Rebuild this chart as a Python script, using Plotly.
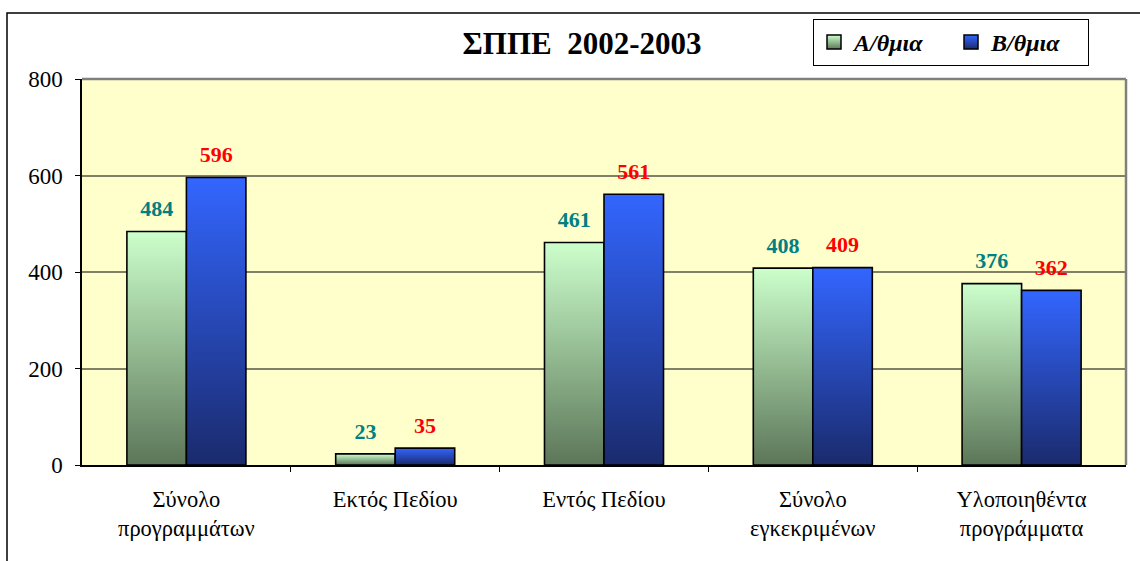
import plotly.graph_objects as go

categories = ["Σύνολο<br>προγραμμάτων", "Εκτός Πεδίου", "Εντός Πεδίου",
              "Σύνολο<br>εγκεκριμένων", "Υλοποιηθέντα<br>προγράμματα"]
series_names = ["Α/θμια", "Β/θμια"]
values_a = [484, 23, 461, 408, 376]
values_b = [596, 35, 561, 409, 362]
y_ticks = [0, 200, 400, 600, 800]

FONT = "Liberation Serif"
BAR_W = 0.285
series = [
    dict(name=series_names[0], vals=values_a, offset=-BAR_W,
         top="#ccffcc", bottom="#5c7658", label="#008080"),
    dict(name=series_names[1], vals=values_b, offset=0.0,
         top="#3366ff", bottom="#1a2a6c", label="#ff0000"),
]

fig = go.Figure()
xs = list(range(len(categories)))

for s in series:
    for i, v in zip(xs, s["vals"]):
        x0 = i + s["offset"]
        x1 = x0 + BAR_W
        fig.add_trace(go.Scatter(
            x=[x0, x0, x1, x1, x0], y=[0, v, v, 0, 0],
            mode="lines", fill="toself",
            fillgradient=dict(type="vertical",
                              colorscale=[[0, s["bottom"]], [1, s["top"]]],
                              start=0, stop=v),
            line=dict(color="black", width=1.6),
            showlegend=False, hoverinfo="skip"))
    fig.add_trace(go.Scatter(
        x=[i + s["offset"] + BAR_W / 2 for i in xs], y=s["vals"],
        mode="markers+text", text=[str(v) for v in s["vals"]],
        textposition="top center",
        marker=dict(size=14, color="rgba(0,0,0,0)"),
        textfont=dict(family=FONT, size=22, color=s["label"], weight="bold"),
        showlegend=False, hoverinfo="skip"))
    # legend entry
    fig.add_trace(go.Scatter(
        x=[None], y=[None], mode="markers", name=s["name"],
        marker=dict(symbol="square", size=14, color=s["top"],
                    gradient=dict(type="vertical", color=s["bottom"]),
                    line=dict(color="black", width=1.5))))

fig.update_layout(
    width=1140, height=561,
    margin=dict(l=82, r=14, t=79, b=96, autoexpand=False),
    paper_bgcolor="white", plot_bgcolor="#ffffcc",
    font=dict(family=FONT, color="black", size=21),
    title=dict(text="<b>ΣΠΠΕ  2002-2003</b>", x=582 / 1140, y=1 - 43 / 561,
               xanchor="center", yanchor="middle", xref="container",
               yref="container", font=dict(family=FONT, size=31, color="black")),
    legend=dict(orientation="h", xref="container", yref="container",
                x=813 / 1140, y=1 - 19 / 561, xanchor="left", yanchor="top",
                bgcolor="white", bordercolor="black", borderwidth=1,
                font=dict(family=FONT, size=24, color="black",
                          weight="bold", style="italic"),
                entrywidth=92, itemwidth=30),
    showlegend=True,
)

fig.update_xaxes(
    range=[-0.5, len(categories) - 0.5], automargin=False,
    tickvals=xs, ticktext=categories, ticks="", showgrid=False,
    showline=True, linecolor="black", linewidth=1.5, zeroline=False,
    ticklabelstandoff=13, tickfont=dict(family=FONT, size=22.5),
    minor=dict(tickvals=[i + 0.5 for i in xs[:-1]], ticks="outside",
               ticklen=5, tickcolor="black", showgrid=False),
)
fig.update_yaxes(
    range=[0, 800], tickvals=y_ticks, ticks="outside", ticklen=5,
    tickcolor="black", showline=True, linecolor="black", linewidth=1.5,
    showgrid=True, gridcolor="#808068", gridwidth=1.5, zeroline=False,
    automargin=False,
    tickfont=dict(family=FONT, size=23), ticklabelstandoff=8,
)

# plot-area frame (top/right) and outer chart frame
fig.add_shape(type="line", xref="paper", yref="paper", x0=0, x1=1, y0=1, y1=1,
              line=dict(color="#808080", width=2.5))
fig.add_shape(type="line", xref="paper", yref="paper", x0=1, x1=1, y0=0, y1=1,
              line=dict(color="#808080", width=2.5))
fig.add_shape(type="rect", xref="paper", yref="paper",
              x0=(7 - 82) / 1044, x1=(1150 - 82) / 1044,
              y0=(465 - 580) / 386, y1=(465 - 13) / 386,
              line=dict(color="black", width=1.5), layer="below")

fig.write_html("out.html",
               config={"displayModeBar": False},
               post_script="document.body.style.margin='0';"
                           "document.body.style.overflow='hidden';")
